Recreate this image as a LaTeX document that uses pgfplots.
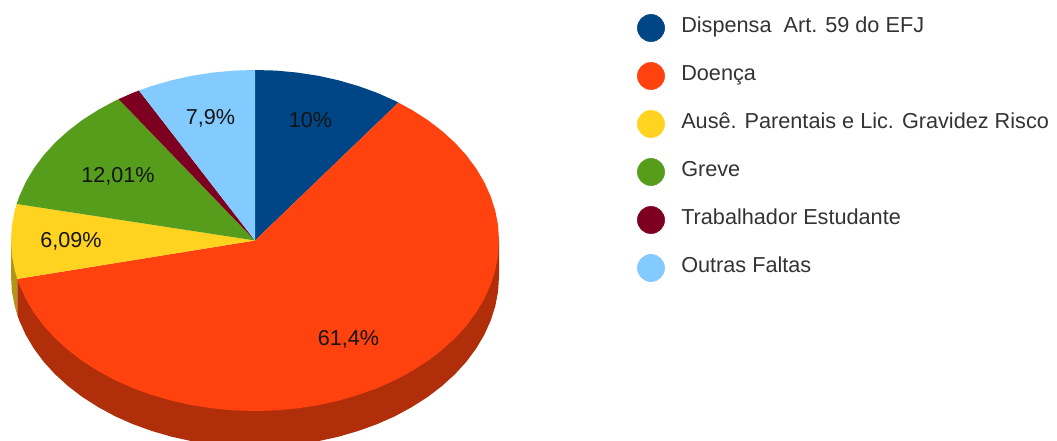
\documentclass[border=0pt]{standalone}
\usepackage{fontspec}
\setmainfont{Liberation Sans}
\usepackage{pgfplots}
\pgfplotsset{compat=1.18}
\definecolor{cblue}{HTML}{004586}
\definecolor{cred}{HTML}{FF420E}
\definecolor{cyellow}{HTML}{FFD320}
\definecolor{cgreen}{HTML}{579D1C}
\definecolor{cmaroon}{HTML}{7E0021}
\definecolor{clight}{HTML}{83CAFF}
\definecolor{credd}{HTML}{B02E0A}
\definecolor{cgold}{HTML}{B29416}
\definecolor{ctext}{HTML}{333333}
\begin{document}
\begin{tikzpicture}
\path[use as bounding box] (0,0) rectangle (792.75pt,330.75pt);
\begin{axis}[scale only axis,width=792.75pt,height=330.75pt,
  xmin=0,xmax=1057,ymin=0,ymax=441,y dir=reverse,hide axis]
% side wall, 36 px under the top face
\addplot[fill=cgold,draw=none] coordinates {
 (17.3,278.9)(17.3,314.9)(14.7,306.1)(11.9,291.4)(11,276.5)(11,240.5)};
\addplot[fill=credd,draw=none] coordinates {
 (499,240.5)(499,276.5)(498.1,291.4)(495.3,306.1)(490.7,320.6)(484.3,334.8)
 (476.1,348.6)(466.3,361.8)(454.9,374.3)(441.9,386.1)(427.5,397.1)(411.8,407.1)
 (395,416.2)(377,424.2)(358.1,431)(338.5,436.7)(318.2,441.2)(297.4,444.4)
 (276.3,446.4)(255,447)(233.7,446.4)(212.6,444.4)(191.8,441.2)(171.5,436.7)
 (151.9,431)(133,424.2)(115,416.2)(98.2,407.1)(82.5,397.1)(68.1,386.1)
 (55.1,374.3)(43.7,361.8)(33.9,348.6)(25.7,334.8)(19.3,320.6)(17.3,314.9)(17.3,278.9)};
% top face
\addplot[fill=cblue,draw=none] coordinates {
 (255,240.5)(255,70)(276.3,70.6)(297.4,72.6)(318.2,75.8)(338.5,80.3)(358.1,86)
 (377,92.8)(395,100.8)(398.4,102.6)};
\addplot[fill=cred,draw=none] coordinates {
 (255,240.5)(398.4,102.6)(411.8,109.9)(427.5,119.9)(441.9,130.9)(454.9,142.7)
 (466.3,155.2)(476.1,168.4)(484.3,182.2)(490.7,196.4)(495.3,210.9)(498.1,225.6)
 (499,240.5)(498.1,255.4)(495.3,270.1)(490.7,284.6)(484.3,298.8)(476.1,312.6)
 (466.3,325.8)(454.9,338.3)(441.9,350.1)(427.5,361.1)(411.8,371.1)(395,380.2)
 (377,388.2)(358.1,395)(338.5,400.7)(318.2,405.2)(297.4,408.4)(276.3,410.4)
 (255,411)(233.7,410.4)(212.6,408.4)(191.8,405.2)(171.5,400.7)(151.9,395)
 (133,388.2)(115,380.2)(98.2,371.1)(82.5,361.1)(68.1,350.1)(55.1,338.3)
 (43.7,325.8)(33.9,312.6)(25.7,298.8)(19.3,284.6)(17.3,278.9)};
\addplot[fill=cyellow,draw=none] coordinates {
 (255,240.5)(17.3,278.9)(14.7,270.1)(11.9,255.4)(11,240.5)(11.9,225.6)(14.7,210.9)(16.6,204)};
\addplot[fill=cgreen,draw=none] coordinates {
 (255,240.5)(16.6,204)(19.3,196.4)(25.7,182.2)(33.9,168.4)(43.7,155.2)(55.1,142.7)
 (68.1,130.9)(82.5,119.9)(98.2,109.9)(115,100.8)(118.6,99.1)};
\addplot[fill=cmaroon,draw=none] coordinates {
 (255,240.5)(118.6,99.1)(133,92.8)(139,90.5)};
\addplot[fill=clight,draw=none] coordinates {
 (255,240.5)(139,90.5)(151.9,86)(171.5,80.3)(191.8,75.8)(212.6,72.6)(233.7,70.6)(255,70)};
% legend dots
\addplot[only marks,mark=*,mark size=10.2pt,color=cblue] coordinates {(651,28)};
\addplot[only marks,mark=*,mark size=10.2pt,color=cred] coordinates {(651,76)};
\addplot[only marks,mark=*,mark size=10.2pt,color=cyellow] coordinates {(651,124)};
\addplot[only marks,mark=*,mark size=10.2pt,color=cgreen] coordinates {(651,172)};
\addplot[only marks,mark=*,mark size=10.2pt,color=cmaroon] coordinates {(651,220)};
\addplot[only marks,mark=*,mark size=10.2pt,color=clight] coordinates {(651,268)};
% slice labels
\tikzset{pct/.style={font=\fontsize{16.2}{19}\selectfont,text=black!92,inner sep=0pt},
  leg/.style={font=\fontsize{16.25}{19}\selectfont,text=ctext,anchor=base west,inner sep=0pt}}
\node[pct] at (axis cs:310.5,120.5) {10\%};
\node[pct] at (axis cs:348.5,339.5) {61,4\%};
\node[pct] at (axis cs:71,241) {6,09\%};
\node[pct] at (axis cs:118,176.5) {12,01\%};
\node[pct] at (axis cs:210.5,118) {7,9\%};
\node[leg] at (axis cs:681,33) {Dispensa\ \ Art. 59 do EFJ};
\node[leg] at (axis cs:681,81) {Doença};
\node[leg] at (axis cs:681,129) {Ausê. Parentais e Lic. Gravidez Risco};
\node[leg] at (axis cs:681,177) {Greve};
\node[leg] at (axis cs:681,225) {Trabalhador Estudante};
\node[leg] at (axis cs:681,273) {Outras Faltas};
\end{axis}
\end{tikzpicture}
\end{document}
